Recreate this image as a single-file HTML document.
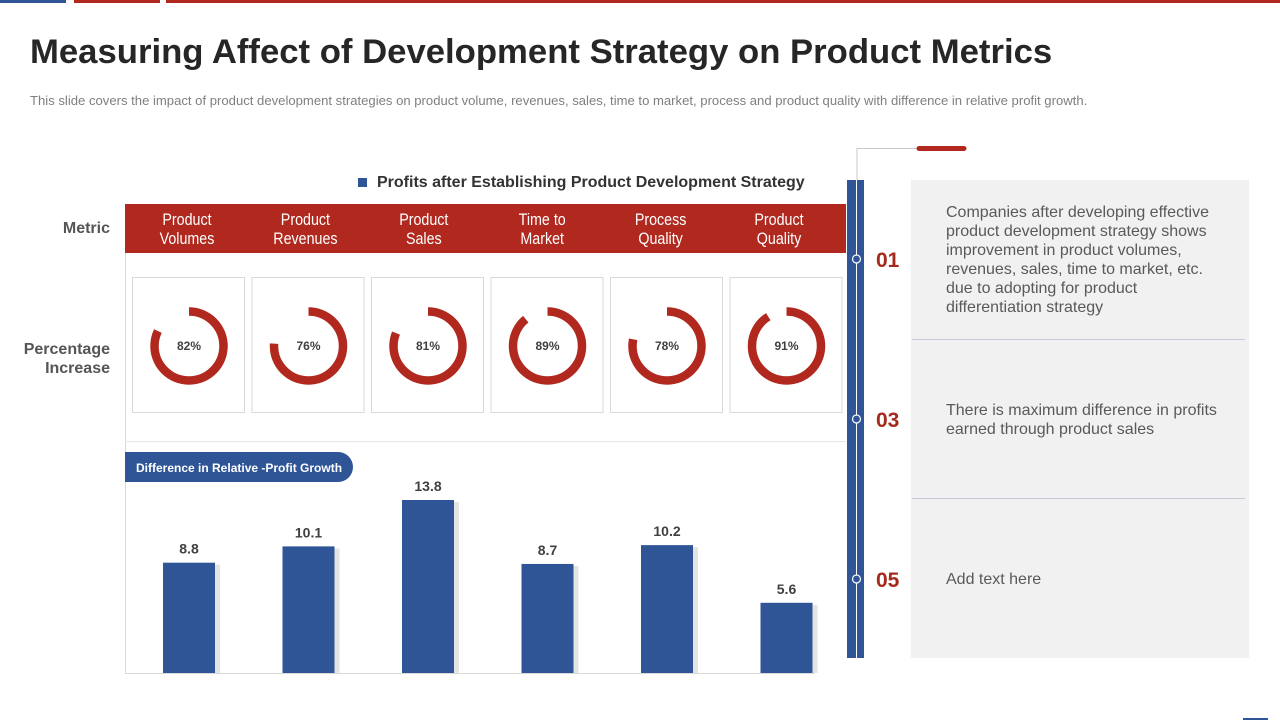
<!DOCTYPE html>
<html><head><meta charset="utf-8"><style>
body{margin:0;width:1280px;height:720px;background:#fff;position:relative;overflow:hidden;font-family:"Liberation Sans",sans-serif}
.abs{position:absolute}
</style></head><body>
<div class="abs" style="left:0;top:0;width:66px;height:3px;background:#2f5597"></div>
<div class="abs" style="left:74px;top:0;width:86px;height:3px;background:#b0281e"></div>
<div class="abs" style="left:166px;top:0;width:1114px;height:3px;background:#b0281e"></div>
<div class="abs" style="left:30px;top:33px;font-size:34.7px;font-weight:bold;color:#262626">Measuring Affect of Development Strategy on Product Metrics</div>
<div class="abs" style="left:30px;top:93px;font-size:13.1px;color:#7f7f7f;white-space:nowrap">This slide covers the impact of product development  strategies on product volume,  revenues,  sales, time to market, process and product quality with difference in relative  profit growth.</div>

<div class="abs" style="left:358px;top:174px;font-size:16px;font-weight:bold;color:#333"><span style="display:inline-block;width:9px;height:9px;background:#2f5597;margin-right:10px"></span>Profits after Establishing Product Development Strategy</div>
<div class="abs" style="left:20px;top:220px;width:90px;text-align:right;font-size:16px;font-weight:bold;color:#555">Metric</div>
<div class="abs" style="left:0px;top:340px;width:110px;text-align:right;font-size:16px;font-weight:bold;color:#555;line-height:19px">Percentage<br>Increase</div>

<svg class="abs" style="left:0;top:0" width="1280" height="720" id="chart"></svg>

<div class="abs" style="left:911px;top:180px;width:338px;height:478px;background:#f1f1f1"></div>
<div class="abs" style="left:912px;top:339px;width:333px;height:1px;background:#c5cad6"></div>
<div class="abs" style="left:912px;top:498px;width:333px;height:1px;background:#c5cad6"></div>
<div class="abs" style="left:946px;top:203px;width:282px;font-size:16px;line-height:19px;color:#595959">Companies after developing effective product development strategy shows improvement in product volumes, revenues, sales, time to market, etc. due to adopting for product differentiation strategy</div>
<div class="abs" style="left:946px;top:401px;width:290px;font-size:16px;line-height:19px;color:#595959">There is maximum difference in profits earned through product sales</div>
<div class="abs" style="left:946px;top:570px;width:290px;font-size:16px;line-height:19px;color:#595959">Add text here</div>
<div class="abs" style="left:876px;top:249px;font-size:21px;font-weight:bold;color:#a52a1e">01</div>
<div class="abs" style="left:876px;top:409px;font-size:21px;font-weight:bold;color:#a52a1e">03</div>
<div class="abs" style="left:876px;top:569px;font-size:21px;font-weight:bold;color:#a52a1e">05</div>
<div class="abs" style="left:1243px;top:718px;width:25px;height:2px;background:#2f5597"></div>

<script>
const categories=["Product|Volumes","Product|Revenues","Product|Sales","Time to|Market","Process|Quality","Product|Quality"];
const percentValues=[82,76,81,89,78,91];
const profitGrowth=[8.8,10.1,13.8,8.7,10.2,5.6];
const NS="http://www.w3.org/2000/svg";
const svg=document.getElementById('chart');
function mk(t,a,p){const e=document.createElementNS(NS,t);for(const k in a)e.setAttribute(k,a[k]);(p||svg).appendChild(e);return e;}
const left=125,right=846,colW=(right-left)/6;
function xC(i){return 189+119.5*i;}
function xH(i){return 187+118.4*i;}
const base=673,pxPerUnit=173/13.8;
function yV(v){return base-v*pxPerUnit;}
let e=mk('rect',{x:left,y:204,width:right-left,height:49,fill:'#b0281e'});

e=mk('line',{x1:left+0.5,y1:253,x2:left+0.5,y2:673,stroke:'#d9d9d9'});

e=mk('line',{x1:left,y1:441.5,x2:right,y2:441.5,stroke:'#e6e6e6'});

e=mk('line',{x1:left,y1:673.5,x2:815,y2:673.5,stroke:'#d9d9d9'});

categories.forEach((c,i)=>{
  const cx=xC(i), hx=xH(i);
  const parts=c.split('|');
  const g=mk('g',{transform:`translate(${hx} 0) scale(0.84 1)`});
  const t=mk('text',{x:0,y:225,'text-anchor':'middle','font-size':17,fill:'#fff'},g);
  
  parts.forEach((p,j)=>{const s=mk('tspan',{x:0,dy:j?19:0},t);s.textContent=p;});
  const card=mk('rect',{x:cx-56.5,y:277.5,width:112,height:135,fill:'#fff',stroke:'#d9d9d9'});
  
  const cy=346,r=34.5,circ=2*Math.PI*r,v=percentValues[i];
  const arc=mk('circle',{cx:cx,cy:cy,r:r,fill:'none',stroke:'#b0281e','stroke-width':8.5,'stroke-dasharray':(circ*v/100)+' '+circ,transform:`rotate(-90 ${cx} ${cy})`});
  
  const pt=mk('text',{x:cx,y:cy+4,'text-anchor':'middle','font-size':12,'font-weight':'bold',fill:'#404040'});
  pt.textContent=v+'%';
  
  const bx=cx-26,by=yV(profitGrowth[i]);
  const sh=mk('rect',{x:bx+52,y:by+2,width:5,height:base-by-2,fill:'#e4e4e4'});
  
  const b=mk('rect',{x:bx,y:by,width:52,height:base-by,fill:'#2f5597'});
  
  const bl=mk('text',{x:cx,y:by-9,'text-anchor':'middle','font-size':14,'font-weight':'bold',fill:'#404040'});
  bl.textContent=profitGrowth[i];
  
});
e=mk('path',{d:'M125 452 H338 A15 15 0 0 1 338 482 H125 Z',fill:'#2f5597'});

e=mk('text',{x:136,y:472,'font-size':12,'font-weight':'bold',fill:'#fff'});e.textContent='Difference in Relative -Profit Growth';

e=mk('polyline',{points:'857,180 857,148.5 917,148.5',fill:'none',stroke:'#c8c8c8'});

e=mk('line',{x1:919,y1:148.5,x2:964,y2:148.5,stroke:'#b0281e','stroke-width':5,'stroke-linecap':'round'});

e=mk('rect',{x:847,y:180,width:17,height:478,fill:'#2f5597'});

e=mk('line',{x1:856.5,y1:180,x2:856.5,y2:658,stroke:'#ffffff','stroke-width':1});

[259,419,579].forEach((y,i)=>{const c=mk('circle',{cx:856.5,cy:y,r:4,fill:'#2f5597',stroke:'#fff','stroke-width':1.2});
});
</script>
</body></html>
